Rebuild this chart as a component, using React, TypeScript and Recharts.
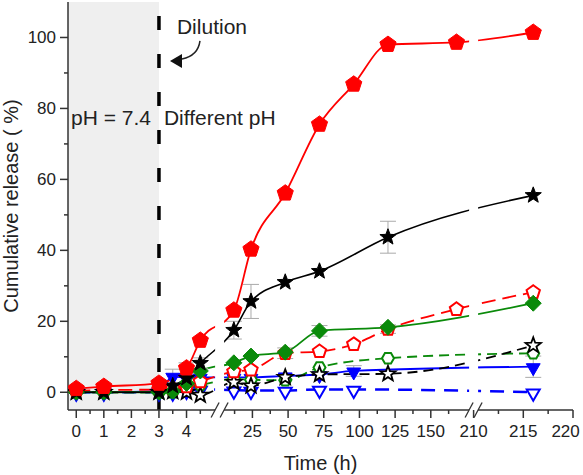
import React from 'react';
import {
  LineChart,
  Line,
  XAxis,
  YAxis,
  ReferenceArea,
  ReferenceLine,
  ReferenceDot,
  ErrorBar,
} from 'recharts';

// ---------- broken time axis definition (segments of the axis) ----------
const segFrom = [-0.3, 2, 210];
const segTo = [5.2, 180, 220];
const segLen = [151.6, 254, 99.4];

// ---------- tick labels ----------
const xMajorTicks = [0, 1, 2, 3, 4, 25, 50, 75, 100, 125, 150, 210, 215, 220];
const xMinorTicks = [0.5, 1.5, 2.5, 3.5, 4.5, 12.5, 37.5, 62.5, 87.5, 112.5, 137.5, 162.5, 212.5, 217.5];
const yMajorTicks = [0, 20, 40, 60, 80, 100];
const yMinorTicks = [10, 30, 50, 70, 90];

// ---------- data ----------
// red filled pentagon, solid
const tA = [0, 1, 3, 4, 4.5, 12, 24, 48, 72, 96, 120, 168, 216];
const yA = [1.0, 1.6, 2.5, 6.8, 14.6, 23.1, 40.3, 56.1, 75.5, 86.8, 98.0, 98.6, 101.4];
const eA = [null, null, null, 1.5, null, null, null, null, null, null, null, null, null];
// black filled star, solid
const tB = [0, 1, 3, 3.5, 4, 4.5, 12, 24, 48, 72, 120, 216];
const yB = [0, 0, 0, 1.8, 4.0, 8.2, 17.5, 25.6, 31.0, 34.1, 43.7, 55.5];
const eB = [null, null, null, null, null, 1.5, 2.5, 4.8, null, null, 4.5, null];
// green filled diamond, solid
const tC = [0, 1, 3, 3.5, 4, 4.5, 12, 24, 48, 72, 120, 216];
const yC = [0, 0, 0, 0.3, 2.5, 6.0, 8.3, 10.2, 11.3, 17.3, 18.3, 25.1];
const eC = [null, null, null, null, null, null, null, null, null, 1.5, null, null];
// red hollow pentagon, dashed
const tD = [0, 1, 3, 3.5, 4, 4.5, 12, 24, 48, 72, 96, 120, 168, 216];
const yD = [0.4, 0.6, 0.8, 1.0, 1.6, 3.0, 5.8, 6.3, 11.0, 11.5, 13.5, 17.8, 23.4, 28.2];
const eD = [null, null, null, null, null, null, null, null, 1.5, null, null, 1.2, null, null];
// green hollow hexagon, dashed
const tE = [0, 1, 3, 3.5, 4, 4.5, 12, 24, 48, 72, 120, 216];
const yE = [0, 0, 0, 0, 1.5, 2.0, 3.8, 3.5, 3.4, 7.0, 9.6, 11.0];
// black hollow star, dashed
const tF = [0, 1, 3, 3.5, 4, 4.5, 12, 24, 48, 72, 120, 216];
const yF = [0, 0, 0, 0.2, 0, -0.8, 2.8, 1.8, 4.2, 5.0, 5.2, 13.2];
// blue filled down-triangle, solid
const tG = [0, 1, 3, 3.5, 4, 4.5, 12, 24, 48, 72, 96, 216];
const yG = [0, 0, 0.3, 4.5, 4.0, 4.2, 4.2, 4.2, 4.6, 5.0, 6.0, 7.2];
const eG = [null, null, null, 2.0, null, null, null, null, null, null, 1.5, 3.0];
// blue hollow down-triangle, dashed
const tH = [0, 1, 3, 3.5, 4, 4.5, 12, 24, 48, 72, 96, 216];
const yH = [0, 0, 0, 0, 0.5, 0.8, 0.6, 0.5, 0.5, 0.8, 0.8, 0.0];

const DILUTION_TIME = 3;

// ---------- helpers ----------
const totalLen = segLen.reduce((a, b) => a + b, 0);

function tv(t: number): number {
  let offset = 0;
  for (let i = 0; i < segFrom.length; i++) {
    if (t <= segTo[i] || i === segFrom.length - 1) {
      return offset + ((t - segFrom[i]) / (segTo[i] - segFrom[i])) * segLen[i];
    }
    offset += segLen[i];
  }
  return offset;
}

const boundaries = segLen.slice(0, -1).map((_, i) =>
  segLen.slice(0, i + 1).reduce((a, b) => a + b, 0)
);

function makeData(ts: number[], ys: number[], es?: (number | null)[]) {
  return ts.map((t, i) => ({ vx: tv(t), y: ys[i], e: es ? es[i] : null }));
}

function poly(n: number, cx: number, cy: number, r: number, start: number) {
  const pts: string[] = [];
  for (let k = 0; k < n; k++) {
    const a = ((start + (k * 360) / n) * Math.PI) / 180;
    pts.push(`${cx + r * Math.cos(a)},${cy + r * Math.sin(a)}`);
  }
  return 'M' + pts.join('L') + 'Z';
}

function shapePath(kind: string, cx: number, cy: number, r: number) {
  if (kind === 'pentagon') return poly(5, cx, cy, r, -90);
  if (kind === 'hexagon') return poly(6, cx, cy, r, 0);
  if (kind === 'diamond') return poly(4, cx, cy, r, -90);
  if (kind === 'tri') return poly(3, cx, cy + 1, r, 90);
  // star
  const pts: string[] = [];
  for (let k = 0; k < 10; k++) {
    const rr = k % 2 === 0 ? r : r * 0.42;
    const a = ((-90 + k * 36) * Math.PI) / 180;
    pts.push(`${cx + rr * Math.cos(a)},${cy + rr * Math.sin(a)}`);
  }
  return 'M' + pts.join('L') + 'Z';
}

function makeDot(id: string, kind: string, color: string, filled: boolean, r: number, sw: number) {
  return (p: any) => {
    const { cx, cy, index } = p;
    if (cx == null || cy == null) return <g key={`${id}-${index}`} />;
    return (
      <path
        key={`${id}-${index}`}
        d={shapePath(kind, cx, cy, r)}
        fill={filled ? color : '#ffffff'}
        stroke={color}
        strokeWidth={sw}
      />
    );
  };
}

const tickInfo = [
  ...xMajorTicks.map((t) => ({ v: tv(t), label: String(t), major: true })),
  ...xMinorTicks.map((t) => ({ v: tv(t), label: '', major: false })),
];

const AXIS_COLOR = '#333333';
const TEXT_COLOR = '#222222';
const FONT = '"Liberation Sans", Arial, sans-serif';
const CHART_W = 583;

const XTick = (p: any) => {
  const { x, y, payload } = p;
  const v = payload.value;
  let best = tickInfo[0];
  for (const ti of tickInfo) if (Math.abs(ti.v - v) < Math.abs(best.v - v)) best = ti;
  const halfW = best.label.length * 4.8;
  const lx = Math.min(x, CHART_W - halfW - 3);
  return (
    <g>
      <line x1={x} y1={y} x2={x} y2={y + (best.major ? 8 : 4)} stroke={AXIS_COLOR} strokeWidth={1.5} />
      {best.major && (
        <text x={lx} y={y + 27} textAnchor="middle" fontSize={17} fill={TEXT_COLOR} fontFamily={FONT}>
          {best.label}
        </text>
      )}
    </g>
  );
};

const YTick = (p: any) => {
  const { x, y, payload } = p;
  const major = yMajorTicks.includes(payload.value);
  return (
    <g>
      <line x1={x - (major ? 8 : 4)} y1={y} x2={x} y2={y} stroke={AXIS_COLOR} strokeWidth={1.5} />
      {major && (
        <text x={x - 12} y={y + 6} textAnchor="end" fontSize={17} fill={TEXT_COLOR} fontFamily={FONT}>
          {payload.value}
        </text>
      )}
    </g>
  );
};

const series = [
  { id: 'H', t: tH, y: yH, e: null, color: '#0000ff', dash: '14 9', width: 2.5, kind: 'tri', filled: false, r: 7.5, sw: 2 },
  { id: 'G', t: tG, y: yG, e: eG, color: '#0000ff', dash: undefined, width: 1.8, kind: 'tri', filled: true, r: 8, sw: 1 },
  { id: 'E', t: tE, y: yE, e: null, color: '#0a8a0a', dash: '10 6', width: 1.8, kind: 'hexagon', filled: false, r: 6, sw: 2 },
  { id: 'F', t: tF, y: yF, e: null, color: '#000000', dash: '10 6', width: 1.8, kind: 'star', filled: false, r: 8, sw: 1.8 },
  { id: 'D', t: tD, y: yD, e: eD, color: '#ff0000', dash: '14 7', width: 1.8, kind: 'pentagon', filled: false, r: 7, sw: 2 },
  { id: 'C', t: tC, y: yC, e: eC, color: '#0a8a0a', dash: undefined, width: 1.8, kind: 'diamond', filled: true, r: 8, sw: 1 },
  { id: 'B', t: tB, y: yB, e: eB, color: '#000000', dash: undefined, width: 1.6, kind: 'star', filled: true, r: 8.5, sw: 1 },
  { id: 'A', t: tA, y: yA, e: eA, color: '#ff0000', dash: undefined, width: 1.8, kind: 'pentagon', filled: true, r: 8.5, sw: 1 },
];

const GAP = 4.5;

export default function App() {
  return (
    <div style={{ position: 'absolute', left: 0, top: 0, width: 583, height: 475, background: '#fff', fontFamily: FONT }}>
      <LineChart
        width={583}
        height={475}
        margin={{ top: 2, right: 10, left: 8, bottom: 35 }}
        style={{ fontFamily: FONT }}
      >
        <ReferenceArea
          x1={tv(segFrom[0])}
          x2={tv(DILUTION_TIME)}
          y1={-5}
          y2={110}
          fill="#efefef"
          fillOpacity={1}
          stroke="none"
          zIndex={-10}
        />
        <ReferenceLine
          x={tv(DILUTION_TIME)}
          stroke="#000"
          strokeWidth={3.5}
          strokeDasharray="14 24"
          zIndex={-5}
        />
        <XAxis
          type="number"
          dataKey="vx"
          domain={[0, totalLen]}
          allowDataOverflow
          ticks={tickInfo.map((t) => t.v)}
          interval={0}
          tick={XTick}
          tickLine={false}
          axisLine={false}
          tickSize={0}
          tickMargin={0}
          height={30}
          label={{
            content: (p: any) => {
              const vb = p.viewBox;
              return (
                <text x={vb.x + vb.width / 2} y={vb.y + 60} textAnchor="middle" fontSize={20} fill={TEXT_COLOR} fontFamily={FONT}>
                  Time (h)
                </text>
              );
            },
          }}
        />
        <YAxis
          type="number"
          domain={[-5, 110]}
          allowDataOverflow
          ticks={[...yMajorTicks, ...yMinorTicks].sort((a, b) => a - b)}
          interval={0}
          tick={YTick}
          tickLine={false}
          tickSize={0}
          tickMargin={0}
          axisLine={{ stroke: AXIS_COLOR, strokeWidth: 1.5 }}
          width={60}
          label={{
            content: (p: any) => {
              const vb = p.viewBox;
              const x = vb.x + 10;
              const y = vb.y + vb.height / 2;
              return (
                <text x={x} y={y} transform={`rotate(-90, ${x}, ${y})`} textAnchor="middle" fontSize={20} fill={TEXT_COLOR} fontFamily={FONT}>
                  Cumulative release ( %)
                </text>
              );
            },
          }}
        />
        {series.map((s) => (
          <Line
            key={s.id}
            data={makeData(s.t, s.y, s.e || undefined)}
            dataKey="y"
            type="monotone"
            stroke={s.color}
            strokeWidth={s.width}
            strokeDasharray={s.dash}
            dot={makeDot(s.id, s.kind, s.color, s.filled, s.r, s.sw)}
            activeDot={false}
            isAnimationActive={false}
            zIndex={400}
          >
            {s.e && <ErrorBar dataKey="e" width={8} stroke="#aaaaaa" strokeWidth={1} direction="y" />}
          </Line>
        ))}
        {boundaries.map((b, i) => (
          <ReferenceArea
            key={`cover-${i}`}
            x1={b - GAP}
            x2={b + GAP}
            y1={-5}
            y2={110}
            fill="#ffffff"
            fillOpacity={1}
            stroke="none"
            zIndex={450}
          />
        ))}
        {[0, ...boundaries].map((b, i) => {
          const end = i < boundaries.length ? boundaries[i] - GAP : totalLen;
          const start = i === 0 ? 0 : b + GAP;
          return (
            <ReferenceLine
              key={`axis-${i}`}
              segment={[
                { x: start, y: -5 },
                { x: end, y: -5 },
              ]}
              stroke={AXIS_COLOR}
              strokeWidth={1.5}
              ifOverflow="visible"
              zIndex={460}
            />
          );
        })}
        {boundaries.flatMap((b, i) =>
          [-GAP, GAP].map((d, j) => (
            <ReferenceLine
              key={`slash-${i}-${j}`}
              segment={[
                { x: b + d - 4, y: -7.1 },
                { x: b + d + 4, y: -2.9 },
              ]}
              stroke={AXIS_COLOR}
              strokeWidth={1.3}
              ifOverflow="visible"
              zIndex={460}
            />
          ))
        )}
        <ReferenceDot
          x={tv(DILUTION_TIME)}
          y={77.3}
          r={0}
          fill="none"
          stroke="none"
          zIndex={470}
          label={{ value: 'pH = 7.4', position: 'left', offset: 8, fontSize: 21, fill: TEXT_COLOR, fontFamily: FONT }}
        />
        <ReferenceDot
          x={tv(DILUTION_TIME)}
          y={77.3}
          r={0}
          fill="none"
          stroke="none"
          zIndex={470}
          label={{ value: 'Different pH', position: 'right', offset: 5, fontSize: 21, fill: TEXT_COLOR, fontFamily: FONT }}
        />
        <ReferenceDot
          x={tv(DILUTION_TIME)}
          y={103.2}
          r={0}
          fill="none"
          stroke="none"
          zIndex={470}
          label={{ value: 'Dilution', position: 'right', offset: 18, fontSize: 21, fill: TEXT_COLOR, fontFamily: FONT }}
        />
        <ReferenceDot
          x={tv(3.4)}
          y={93.4}
          r={1}
          zIndex={470}
          shape={(p: any) => {
            const { cx, cy } = p;
            return (
              <g>
                <path
                  d={`M${cx + 30},${cy - 20} Q${cx + 28},${cy - 5} ${cx + 12},${cy - 2}`}
                  fill="none"
                  stroke="#222"
                  strokeWidth={1.5}
                />
                <path d={`M${cx},${cy} L${cx + 12},${cy - 7} L${cx + 12},${cy + 7} Z`} fill="#111" />
              </g>
            );
          }}
        />
      </LineChart>
    </div>
  );
}
